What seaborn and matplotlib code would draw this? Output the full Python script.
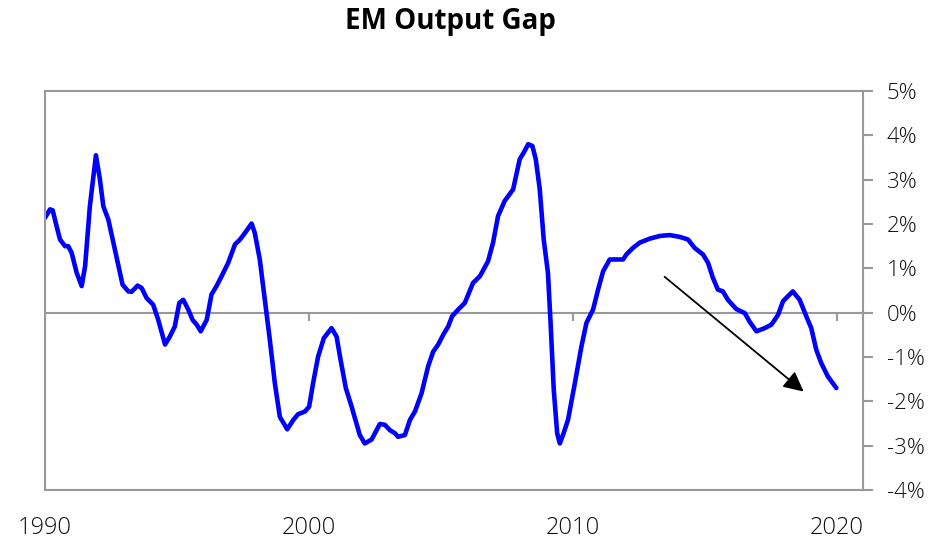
import matplotlib
matplotlib.use("Agg")
import matplotlib.pyplot as plt
import seaborn as sns
import pandas as pd
from matplotlib.ticker import FuncFormatter

# ---- data ----
years = [1990.00, 1990.19, 1990.29, 1990.44, 1990.57, 1990.76, 1990.88, 1991.01, 1991.20, 1991.39,
         1991.52, 1991.70, 1991.93, 1992.08, 1992.21, 1992.40, 1992.59, 1992.78, 1992.94, 1993.16,
         1993.28, 1993.51, 1993.66, 1993.85, 1994.10, 1994.29, 1994.55, 1994.73, 1994.92, 1995.09,
         1995.24, 1995.43, 1995.59, 1995.75, 1995.90, 1996.13, 1996.31, 1996.50, 1996.69, 1996.94,
         1997.20, 1997.39, 1997.58, 1997.83, 1997.95, 1998.14, 1998.33, 1998.52, 1998.71, 1998.90,
         1999.18, 1999.41, 1999.59, 1999.85, 2000.01, 2000.16, 2000.35, 2000.57, 2000.86, 2001.05,
         2001.20, 2001.40, 2001.62, 2001.93, 2002.12, 2002.38, 2002.69, 2002.88, 2003.07, 2003.26,
         2003.38, 2003.64, 2003.83, 2004.02, 2004.27, 2004.52, 2004.71, 2004.90, 2005.09, 2005.28,
         2005.43, 2005.66, 2005.91, 2006.22, 2006.48, 2006.79, 2006.98, 2007.17, 2007.42, 2007.74,
         2007.99, 2008.18, 2008.31, 2008.47, 2008.60, 2008.75, 2008.90, 2009.06, 2009.16, 2009.28,
         2009.41, 2009.51, 2009.63, 2009.82, 2010.08, 2010.33, 2010.52, 2010.77, 2010.96, 2011.15,
         2011.40, 2011.91, 2012.03, 2012.28, 2012.54, 2012.92, 2013.30, 2013.67, 2014.05, 2014.37,
         2014.62, 2014.94, 2015.13, 2015.31, 2015.50, 2015.69, 2015.88, 2016.20, 2016.52, 2016.70,
         2016.96, 2017.27, 2017.53, 2017.78, 2017.97, 2018.34, 2018.60, 2018.85, 2019.04, 2019.23,
         2019.42, 2019.67, 2019.99]
output_gap = [2.14, 2.33, 2.31, 1.95, 1.65, 1.50, 1.50, 1.35, 0.90, 0.60,
              1.05, 2.40, 3.55, 3.01, 2.40, 2.10, 1.58, 1.05, 0.63, 0.48,
              0.47, 0.61, 0.56, 0.33, 0.18, -0.16, -0.72, -0.54, -0.31, 0.22,
              0.29, 0.07, -0.16, -0.27, -0.42, -0.16, 0.41, 0.60, 0.82, 1.12,
              1.54, 1.65, 1.80, 2.01, 1.80, 1.20, 0.29, -0.61, -1.59, -2.35,
              -2.63, -2.42, -2.29, -2.23, -2.12, -1.59, -0.99, -0.57, -0.35, -0.54,
              -1.06, -1.70, -2.12, -2.76, -2.95, -2.86, -2.51, -2.53, -2.65, -2.72,
              -2.80, -2.76, -2.42, -2.23, -1.82, -1.21, -0.88, -0.72, -0.50, -0.31,
              -0.08, 0.07, 0.22, 0.67, 0.82, 1.16, 1.58, 2.18, 2.52, 2.78,
              3.46, 3.65, 3.80, 3.76, 3.46, 2.78, 1.65, 0.90, -0.23, -1.74,
              -2.72, -2.95, -2.76, -2.42, -1.59, -0.76, -0.23, 0.07, 0.52, 0.93,
              1.20, 1.20, 1.31, 1.46, 1.58, 1.67, 1.73, 1.75, 1.71, 1.65,
              1.46, 1.31, 1.12, 0.79, 0.52, 0.48, 0.29, 0.08, -0.01, -0.20,
              -0.42, -0.35, -0.27, -0.05, 0.26, 0.48, 0.29, -0.08, -0.35, -0.84,
              -1.14, -1.44, -1.70]
x_ticks = [1990, 2000, 2010, 2020]
x_tick_labels = ["1990", "2000", "2010", "2020"]
y_ticks = [-4, -3, -2, -1, 0, 1, 2, 3, 4, 5]
arrow_start = (2013.48, 0.81)
arrow_end = (2018.75, -1.78)
title = "EM Output Gap"

df = pd.DataFrame({"year": years, "gap": output_gap})

sns.set_theme(style="white")
plt.rcParams["font.family"] = ["Open Sans", "DejaVu Sans"]

GRAY = "#999999"
fig = plt.figure(figsize=(9.49, 5.42), dpi=100)
ax = fig.add_axes([45 / 949, 52 / 542, 818 / 949, 399 / 542])

sns.lineplot(data=df, x="year", y="gap", ax=ax, color="#0000FF", linewidth=3.3)

ax.axhline(0, color=GRAY, lw=1.5, zorder=1)

ax.set_xlim(1990, 2021)
ax.set_ylim(-4, 5)
ax.set_xlabel("")
ax.set_ylabel("")

for s in ax.spines.values():
    s.set_visible(True)
    s.set_color(GRAY)
    s.set_linewidth(1.5)

# y axis on the right
ax.yaxis.tick_right()
ax.set_yticks(y_ticks)
ax.yaxis.set_major_formatter(FuncFormatter(lambda v, p: f"{int(round(v))}%"))
ax.tick_params(axis="y", which="both", right=True, left=False, direction="out",
               length=7, width=1.5, color=GRAY, labelsize=16, labelcolor="#111111", pad=10)

# x labels at bottom, no tick marks
ax.set_xticks(x_ticks)
ax.set_xticklabels(x_tick_labels)
ax.tick_params(axis="x", which="both", bottom=True, length=0, labelsize=17,
               labelcolor="#111111", pad=19)
for lab in ax.get_xticklabels() + ax.get_yticklabels():
    lab.set_fontweight(300)

# small tick marks on the zero line
sec = ax.secondary_xaxis(4 / 9)
sec.set_xticks(x_ticks[1:])
sec.set_xticklabels([])
sec.spines["bottom"].set_visible(False)
sec.tick_params(axis="x", direction="out", length=6, width=1.5, color=GRAY)

ax.annotate("", xy=arrow_end, xytext=arrow_start,
            arrowprops=dict(arrowstyle="-|>", color="black", lw=1.3, mutation_scale=30,
                            shrinkA=0, shrinkB=0))

fig.text(0.475, 1 - 21 / 542, title, ha="center", va="center", fontsize=20,
         fontweight="bold", color="black")

fig.savefig("out.png", dpi=100)
